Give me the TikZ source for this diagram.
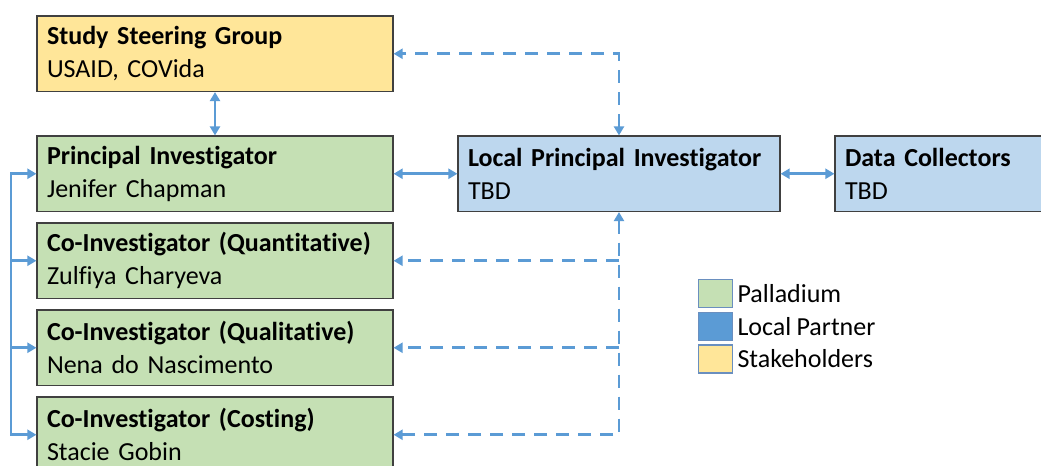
\documentclass[tikz,border=0pt]{standalone}
\usepackage{fontspec}
\setmainfont{Carlito}[Ligatures={NoCommon},WordSpace={0.9}]
\usetikzlibrary{arrows.meta}
\definecolor{cyellow}{HTML}{FFE699}
\definecolor{cgreen}{HTML}{C5E0B4}
\definecolor{clblue}{HTML}{BDD7EE}
\definecolor{cblue}{HTML}{5B9BD5}
\definecolor{cborder}{HTML}{404040}
\definecolor{clegborder}{HTML}{6A8FBF}
\begin{document}
\begin{tikzpicture}[x=0.5pt,y=-0.5pt,
  box/.style={draw=cborder,line width=0.6pt,minimum height=37.75pt,
    inner xsep=5pt,inner ysep=0pt,align=left,font=\fontsize{13}{16.5}\selectfont},
  wbox/.style={box,minimum width=178pt,text width=168pt},
  conn/.style={draw=cblue,line width=1.4pt,line join=miter,
    {Triangle[length=4.5pt,width=5pt]}-{Triangle[length=4.5pt,width=5pt]}},
  oneway/.style={draw=cblue,line width=1.4pt,-{Triangle[length=4.5pt,width=5pt]}},
  dashconn/.style={conn,dash pattern=on 6.5pt off 4.5pt},
  dashone/.style={oneway,dash pattern=on 6.5pt off 4.5pt},
  legsq/.style={draw=clegborder,line width=0.6pt,minimum width=17pt,minimum height=14pt,inner sep=0pt},
  legtxt/.style={anchor=west,inner sep=2pt,font=\fontsize{13}{16}\selectfont}
]
\clip (0,0) rectangle (1041,466);
\fill[white] (0,0) rectangle (1041,466);

\node[wbox,fill=cyellow] (steer) at (215,53.75) {\textbf{Study Steering Group}\\USAID, COVida};
\node[wbox,fill=cgreen] (pi) at (215,173.75) {\textbf{Principal Investigator}\\Jenifer Chapman};
\node[wbox,fill=cgreen] (quant) at (215,260.75) {\textbf{Co-Investigator (Quantitative)}\\Zulfiya Charyeva};
\node[wbox,fill=cgreen] (qual) at (215,347.75) {\textbf{Co-Investigator (Qualitative)}\\Nena do Nascimento};
\node[wbox,fill=cgreen] (cost) at (215,434.75) {\textbf{Co-Investigator (Costing)}\\Stacie Gobin};
\node[box,fill=clblue,minimum width=161pt,text width=151pt] (lpi) at (619,173.75) {\textbf{Local Principal Investigator}\\TBD};
\node[box,fill=clblue,minimum width=112.5pt,text width=102.5pt] (dc) at (947.5,173.75) {\textbf{Data Collectors}\\TBD};

\coordinate (L) at (11,173.75);

\draw[conn] (steer.south) -- (pi.north);
\draw[conn] (pi.east) -- (lpi.west);
\draw[conn] (lpi.east) -- (dc.west);
\draw[dashconn] (lpi.north) -- (lpi.north |- steer.east) -- (steer.east);
\draw[dashconn] (lpi.south) -- (lpi.south |- cost.east) -- (cost.east);
\draw[dashone] (lpi.south |- quant.east) -- (quant.east);
\draw[dashone] (lpi.south |- qual.east) -- (qual.east);

\draw[conn] (pi.west) -- (L) -- (L |- cost.west) -- (cost.west);
\draw[oneway] (L |- quant.west) -- (quant.west);
\draw[oneway] (L |- qual.west) -- (qual.west);

\node[legsq,fill=cgreen] (lg1) at (715.5,293.5) {};
\node[legsq,fill=cblue] (lg2) at (715.5,326.5) {};
\node[legsq,fill=cyellow] (lg3) at (715.5,359) {};
\node[legtxt] (lt1) at (lg1.east) {Palladium};
\node[legtxt] (lt2) at (lg2.east) {Local Partner};
\node[legtxt] (lt3) at (lg3.east) {Stakeholders};
\end{tikzpicture}
\end{document}
